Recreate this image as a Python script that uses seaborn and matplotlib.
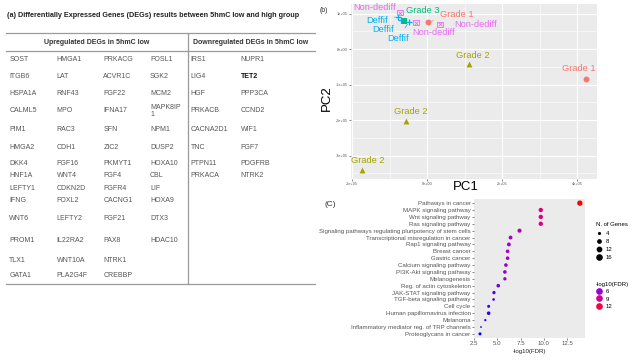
import numpy as np
import pandas as pd
import matplotlib
matplotlib.use('Agg')
import matplotlib.pyplot as plt
import seaborn as sns
from matplotlib.colors import LinearSegmentedColormap
from matplotlib.lines import Line2D
from matplotlib.ticker import MultipleLocator

# --- (a) DEG table ---
title_a = '(a) Differentially Expressed Genes (DEGs) results between 5hmC low and high group'
up_header = 'Upregulated DEGs in 5hmC low'
down_header = 'Downregulated DEGs in 5hmC low'
up_genes = [
    ['SOST', 'HMGA1', 'PRKACG', 'FOSL1'],
    ['ITGB6', 'LAT', 'ACVR1C', 'SGK2'],
    ['HSPA1A', 'RNF43', 'FGF22', 'MCM2'],
    ['CALML5', 'MPO', 'IFNA17', 'MAPK8IP\n1'],
    ['PIM1', 'RAC3', 'SFN', 'NPM1'],
    ['HMGA2', 'CDH1', 'ZIC2', 'DUSP2'],
    ['DKK4', 'FGF16', 'PKMYT1', 'HOXA10'],
    ['HNF1A', 'WNT4', 'FGF4', 'CBL'],
    ['LEFTY1', 'CDKN2D', 'FGFR4', 'LIF'],
    ['IFNG', 'FOXL2', 'CACNG1', 'HOXA9'],
    ['WNT6', 'LEFTY2', 'FGF21', 'DTX3'],
    ['PROM1', 'IL22RA2', 'PAX8', 'HDAC10'],
    ['TLX1', 'WNT10A', 'NTRK1', ''],
    ['GATA1', 'PLA2G4F', 'CREBBP', ''],
]
down_genes = [
    ['IRS1', 'NUPR1'],
    ['LIG4', 'TET2'],
    ['HGF', 'PPP3CA'],
    ['PRKACB', 'CCND2'],
    ['CACNA2D1', 'WIF1'],
    ['TNC', 'FGF7'],
    ['PTPN11', 'PDGFRB'],
    ['PRKACA', 'NTRK2'],
]
bold_genes = ['TET2']

# --- (b) PCA ---
pca_group = ['Grade 1', 'Grade 1', 'Grade 2', 'Grade 2', 'Grade 2', 'Grade 3',
             'Deffif', 'Deffif', 'Deffif', 'Non-dediff', 'Non-dediff', 'Non-dediff']
pc1 = [0.035e5, 4.232e5, 1.12e5, -0.56e5, -1.741e5, -0.605e5,
       -0.781e5, -0.693e5, -0.48e5, 0.347e5, -0.293e5, -0.72e5]
pc2 = [0.761e5, -0.837e5, -0.431e5, -2.037e5, -3.408e5, 0.797e5,
       0.91e5, 0.817e5, 0.769e5, 0.696e5, 0.741e5, 1.023e5]
group_colors = {'Grade 1': '#F8766D', 'Grade 2': '#A3A500', 'Grade 3': '#00BF7D',
                'Deffif': '#00B0F6', 'Non-dediff': '#E76BF3'}
pc_xticks = [-2e5, 0, 2e5, 4e5]
pc_xlabels = ['-2e+05', '0e+00', '2e+05', '4e+05']
pc_yticks = [-3e5, -2e5, -1e5, 0, 1e5]
pc_ylabels = ['-3e+05', '-2e+05', '-1e+05', '0e+00', '1e+05']
# label offsets (pixels) as placed by the repel layout, and whether a segment is drawn
label_dx = [28.4, -6.7, 4, 4.7, 5.6, 18.7, -21, -18, -11, 36, 18, -25]
label_dy = [7.7, 10, 8.6, 10, 9.3, 10, -3.3, -9.3, -17, 0.3, -9.3, 5.4]
label_seg = [True, False, False, False, False, True, True, True, True, False, False, False]

# --- (c) KEGG dot plot ---
pathways = ['Pathways in cancer', 'MAPK signaling pathway', 'Wnt signaling pathway',
            'Ras signaling pathway', 'Signaling pathways regulating pluripotency of stem cells',
            'Transcriptional misregulation in cancer', 'Rap1 signaling pathway', 'Breast cancer',
            'Gastric cancer', 'Calcium signaling pathway', 'PI3K-Akt signaling pathway',
            'Melanogenesis', 'Reg. of actin cytoskeleton', 'JAK-STAT signaling pathway',
            'TGF-beta signaling pathway', 'Cell cycle', 'Human papillomavirus infection',
            'Melanoma', 'Inflammatory mediator reg. of TRP channels', 'Proteoglycans in cancer']
neg_log_fdr = [13.85, 9.66, 9.66, 9.66, 7.38, 6.42, 6.24, 6.1, 6.1, 5.92,
               5.81, 5.81, 5.1, 4.64, 4.6, 4.07, 4.07, 3.71, 3.25, 3.14]
n_genes = [17, 12, 12, 12, 11, 10, 10, 9, 9, 9, 9, 8, 9, 8, 6, 7, 9, 5, 4, 7]
size_breaks = [4, 8, 12, 16]
color_breaks = [6, 9, 12]
fdr_xticks = [2.5, 5.0, 7.5, 10.0, 12.5]

plt.rcParams['font.family'] = ['Liberation Sans', 'DejaVu Sans']

fig = plt.figure(figsize=(6.34, 3.6), dpi=100)

# --- Panel (a): table drawn in pixel coordinates ---
tab = fig.add_axes([0, 0, 1, 1])
tab.set_xlim(0, 634)
tab.set_ylim(360, 0)
tab.axis('off')
tab.text(7.3, 15.7, title_a, fontsize=5.2, fontweight='bold', va='center', ha='left', color='#222222')
line_kw = dict(color='#9A9A9A', lw=0.9)
tab.plot([6, 315], [33.3, 33.3], **line_kw)
tab.plot([6, 315], [51, 51], **line_kw)
tab.plot([6, 315], [283.7, 283.7], **line_kw)
tab.plot([188.3, 188.3], [33.3, 283.7], **line_kw)
tab.text(96.7, 42.7, up_header, fontsize=5, fontweight='bold', ha='center', va='center', color='#333333')
tab.text(251, 42.7, down_header, fontsize=5, fontweight='bold', ha='center', va='center', color='#333333')

col_x = [9.3, 56.7, 103.3, 150, 190.7, 240.7]
row_y = [59.3, 76.3, 93.7, 111, 129.3, 147.7, 163.7, 175.5, 188, 201, 218, 241, 260, 275.7]
for r, row in enumerate(up_genes):
    for c, g in enumerate(row):
        tab.text(col_x[c], row_y[r], g, fontsize=5, ha='left', va='center',
                 color='#555555', linespacing=1.0)
for r, row in enumerate(down_genes):
    for c, g in enumerate(row):
        bold = g in bold_genes
        tab.text(col_x[4 + c], row_y[r], g, fontsize=5, ha='left', va='center',
                 color='#111111' if bold else '#555555',
                 fontweight='bold' if bold else 'normal')

# --- Panel (b): PCA ---
ax_b = fig.add_axes([351 / 634, 1 - 179 / 360, 246 / 634, 175 / 360])
ax_b.set_facecolor('#EBEBEB')
df_pca = pd.DataFrame({'PC1': pc1, 'PC2': pc2, 'group': pca_group})
for g, sub in df_pca.groupby('group', sort=False):
    col = group_colors[g]
    if g == 'Deffif':
        sns.scatterplot(data=sub, x='PC1', y='PC2', marker='+', color=col, s=22,
                        linewidth=0.9, ax=ax_b, legend=False, zorder=3)
    elif g == 'Non-dediff':
        sns.scatterplot(data=sub, x='PC1', y='PC2', marker='s', facecolor='none',
                        edgecolor=col, s=16, linewidth=0.6, ax=ax_b, legend=False, zorder=3)
        sns.scatterplot(data=sub, x='PC1', y='PC2', marker='x', color=col, s=7,
                        linewidth=0.6, ax=ax_b, legend=False, zorder=3)
    else:
        mk = {'Grade 1': 'o', 'Grade 2': '^', 'Grade 3': 's'}[g]
        sns.scatterplot(data=sub, x='PC1', y='PC2', marker=mk, color=col, s=18,
                        edgecolor=col, linewidth=0, ax=ax_b, legend=False, zorder=3)

for i in range(len(pc1)):
    col = group_colors[pca_group[i]]
    arrow = dict(arrowstyle='-', color=col, lw=0.5, shrinkA=3, shrinkB=2) if label_seg[i] else None
    ax_b.annotate(pca_group[i], xy=(pc1[i], pc2[i]), xytext=(label_dx[i], label_dy[i]),
                  textcoords='offset pixels', ha='center', va='center', fontsize=6.7,
                  color=col, arrowprops=arrow, zorder=4)

ax_b.set_xlim(-2.027e5, 4.533e5)
ax_b.set_ylim(-3.662e5, 1.268e5)
ax_b.set_xticks(pc_xticks)
ax_b.set_xticklabels(pc_xlabels)
ax_b.set_yticks(pc_yticks)
ax_b.set_yticklabels(pc_ylabels)
ax_b.xaxis.set_minor_locator(MultipleLocator(1e5))
ax_b.yaxis.set_minor_locator(MultipleLocator(0.5e5))
ax_b.grid(which='major', color='white', lw=0.8)
ax_b.grid(which='minor', color='white', lw=0.4)
ax_b.set_axisbelow(True)
ax_b.tick_params(which='major', labelsize=2.8, length=1.5, width=0.5, color='#555555',
                 labelcolor='#555555', pad=1)
ax_b.tick_params(which='minor', length=0)
for sp in ax_b.spines.values():
    sp.set_visible(False)
ax_b.set_xlabel('')
ax_b.set_ylabel('')
fig.text(466 / 634, 1 - 186.7 / 360, 'PC1', fontsize=9.5, ha='center', va='center')
fig.text(327 / 634, 1 - 98 / 360, 'PC2', fontsize=9.5, ha='center', va='center', rotation=90)
fig.text(320 / 634, 1 - 10 / 360, '(b)', fontsize=5, ha='left', va='center', color='#333333')

# --- Panel (c): KEGG dot plot ---
cmap = LinearSegmentedColormap.from_list(
    'fdr', [(0, '#0000FF'), (0.27, '#A000D0'), (0.55, '#D6008C'), (0.83, '#F70048'), (1, '#FF0000')])
hue_lim = (min(neg_log_fdr), max(neg_log_fdr))
size_lim = (4, 17)
size_rng = (1.6, 15)

ax_c = fig.add_axes([474 / 634, 1 - 338 / 360, 111 / 634, 139 / 360])
ax_c.set_facecolor('#EBEBEB')
df_kegg = pd.DataFrame({'pathway': pathways, 'fdr': neg_log_fdr, 'genes': n_genes})
df_kegg['pos'] = np.arange(len(pathways))
sns.scatterplot(data=df_kegg, x='fdr', y='pos', hue='fdr', palette=cmap, hue_norm=hue_lim,
                size='genes', sizes=size_rng, size_norm=size_lim, linewidth=0,
                legend=False, ax=ax_c, zorder=3)
ax_c.set_ylim(len(pathways) - 0.4, -0.6)
ax_c.set_xlim(2.5, 14.4)
ax_c.set_yticks(df_kegg['pos'])
ax_c.set_yticklabels(pathways)
ax_c.set_xticks(fdr_xticks)
ax_c.set_xticklabels([f'{v:.1f}' for v in fdr_xticks])
ax_c.tick_params(labelsize=4.4, length=1.5, width=0.5, color='#555555', labelcolor='#555555', pad=1)
for sp in ax_c.spines.values():
    sp.set_visible(False)
ax_c.set_xlabel('-log10(FDR)', fontsize=4.4, labelpad=1.5, color='#222222')
ax_c.set_ylabel('')
fig.text(330 / 634, 1 - 204 / 360, '(C)', fontsize=6, ha='center', va='center', color='#333333')

# legends built from the same scales
def size_of(g):
    t = (g - size_lim[0]) / (size_lim[1] - size_lim[0])
    return size_rng[0] + t * (size_rng[1] - size_rng[0])

size_handles = [Line2D([], [], ls='', marker='o', color='black', markersize=np.sqrt(size_of(g)))
                for g in size_breaks]
leg1 = ax_c.legend(size_handles, [str(g) for g in size_breaks], title='N. of Genes',
                   loc='upper left', bbox_to_anchor=(596 / 634, 1 - 222.5 / 360),
                   bbox_transform=fig.transFigure, frameon=False, fontsize=4.3,
                   title_fontsize=4.3, labelspacing=0.5, handletextpad=0.6,
                   handlelength=1.0, alignment='left', borderaxespad=0, borderpad=0)
ax_c.add_artist(leg1)
color_handles = [Line2D([], [], ls='', marker='o', markersize=3.8,
                        color=cmap((v - hue_lim[0]) / (hue_lim[1] - hue_lim[0])))
                 for v in color_breaks]
ax_c.legend(color_handles, [str(v) for v in color_breaks], title='-log10(FDR)',
            loc='upper left', bbox_to_anchor=(596 / 634, 1 - 282 / 360),
            bbox_transform=fig.transFigure, frameon=False, fontsize=4.3,
            title_fontsize=4.3, labelspacing=0.35, handletextpad=0.6,
            handlelength=1.0, alignment='left', borderaxespad=0, borderpad=0)

fig.savefig('out.png', dpi=100)
